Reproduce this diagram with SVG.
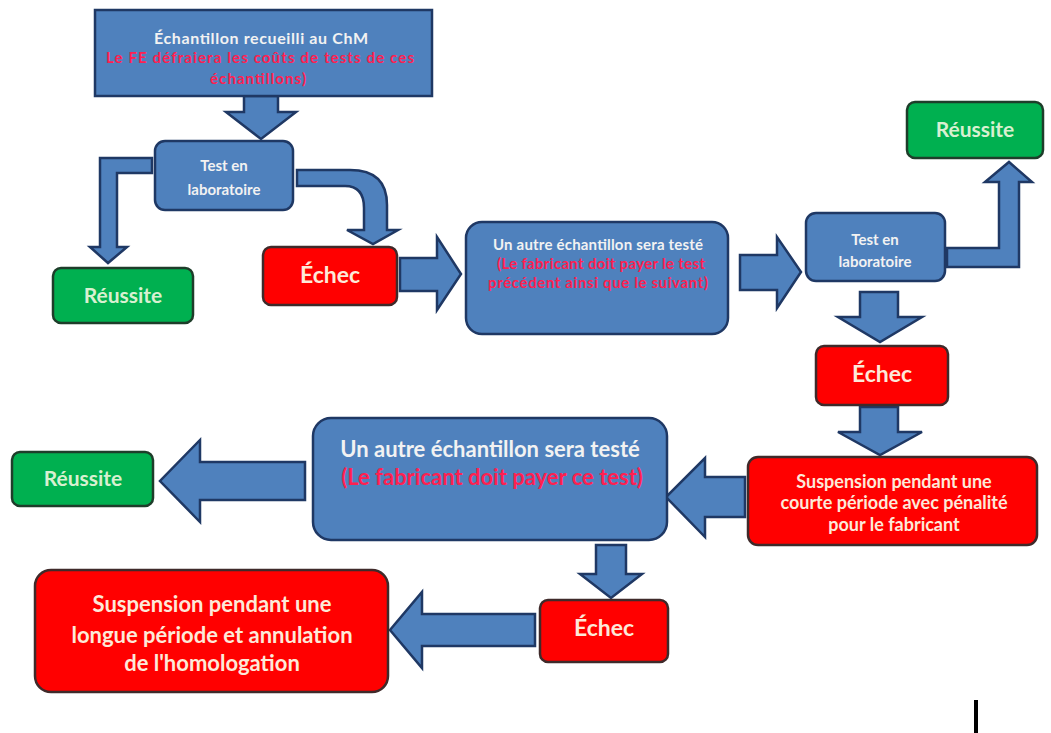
<svg xmlns="http://www.w3.org/2000/svg" width="1051" height="733" viewBox="0 0 1051 733">
<style>
.blue{fill:#4f81bd;stroke:#1f3864;stroke-width:2.5}
.red{fill:#ff0000;stroke:#3f2a2a;stroke-width:2.5}
.green{fill:#00b050;stroke:#1e3d2a;stroke-width:2.5}
.arr{fill:#4f81bd;stroke:#1f3864;stroke-width:2.5;stroke-linejoin:miter}
text{font-family:Lato,"Open Sans","Liberation Sans",sans-serif;font-weight:bold;text-anchor:middle}
.w{fill:#f2f2f2}
.r{fill:#ff2050}
.e{fill:#fde9d9}
.g{fill:#d8f0d0}
</style>
<rect width="1051" height="733" fill="#ffffff"/>
<g id="connectors">
<polygon class="arr" points="244,96 278,96 278,112 296,112 261,139 226,112 244,112"/>
<polygon class="arr" points="152,158 100,158 100,247 90,247 108,263 127,247 117,247 117,173 152,173"/>
<path class="arr" d="M297,170 L350,170 Q387,170 387,205 L387,230 L398,230 L373,244 L347,230 L364,230 L364,208 Q364,186 345,186 L297,186 Z"/>
<polygon class="arr" points="400,258 437,258 437,237 461,274 437,310 437,291 400,291"/>
<polygon class="arr" points="740,255 777,255 777,237 801,272 777,308 777,290 740,290"/>
<polygon class="arr" points="947,248 999,248 999,182 985,182 1009,162 1032,182 1019,182 1019,267 947,267"/>
<polygon class="arr" points="860,292 898,292 898,317 922,317 880,342 838,317 860,317"/>
<polygon class="arr" points="860,407 898,407 898,432 922,432 880,455 838,432 860,432"/>
<polygon class="arr" points="745,477 705,477 705,458 666,497 705,537 705,517 745,517"/>
<polygon class="arr" points="305,462 200,462 200,440 160,481 200,522 200,500 305,500"/>
<polygon class="arr" points="596,545 626,545 626,574 642,574 611,598 580,574 596,574"/>
<polygon class="arr" points="535,614 422,614 422,592 390,630 422,668 422,646 535,646"/>
</g>
<g id="top">
<rect class="blue" x="95" y="10" width="337" height="86"/>
<text class="w" x="261" y="44" font-size="16" textLength="214" lengthAdjust="spacing">Échantillon recueilli au ChM</text>
<text class="r" x="260" y="63" font-size="15" textLength="308" lengthAdjust="spacing">Le FE défraiera les coûts de tests de ces</text>
<text class="r" x="258" y="84" font-size="15" textLength="96" lengthAdjust="spacing">échantillons)</text>
</g>
<g id="test1">
<rect class="blue" x="155" y="141" width="138" height="69" rx="10"/>
<text class="w" x="224" y="171" font-size="15">Test en</text>
<text class="w" x="224" y="195" font-size="15">laboratoire</text>
</g>
<g id="reussite1">
<rect class="green" x="53" y="268" width="140" height="55" rx="8"/>
<text class="g" x="123" y="303" font-size="21">Réussite</text>
</g>
<g id="echec1">
<rect class="red" x="263" y="247" width="134" height="58" rx="8"/>
<text class="e" x="330" y="283" font-size="23">Échec</text>
</g>
<g id="autre1">
<rect class="blue" x="466" y="222" width="262" height="112" rx="16"/>
<text class="w" x="598" y="250" font-size="15" textLength="210" lengthAdjust="spacing">Un autre échantillon sera testé</text>
<text class="r" x="601" y="269" font-size="15" textLength="208" lengthAdjust="spacing">(Le fabricant doit payer le test</text>
<text class="r" x="598" y="288" font-size="15" textLength="220" lengthAdjust="spacing">précédent ainsi que le suivant)</text>
</g>
<g id="test2">
<rect class="blue" x="806" y="213" width="139" height="68" rx="10"/>
<text class="w" x="875" y="245" font-size="15">Test en</text>
<text class="w" x="875" y="267" font-size="15">laboratoire</text>
</g>
<g id="reussite2">
<rect class="green" x="907" y="102" width="136" height="56" rx="8"/>
<text class="g" x="975" y="137" font-size="21">Réussite</text>
</g>
<g id="echec2">
<rect class="red" x="816" y="346" width="132" height="59" rx="8"/>
<text class="e" x="882" y="382" font-size="23">Échec</text>
</g>
<g id="suspension1">
<rect class="red" x="748" y="457" width="289" height="88" rx="10"/>
<text class="e" x="894" y="488" font-size="18">Suspension pendant une</text>
<text class="e" x="894" y="509" font-size="18">courte période avec pénalité</text>
<text class="e" x="894" y="531" font-size="18">pour le fabricant</text>
</g>
<g id="autre2">
<rect class="blue" x="313" y="418" width="354" height="122" rx="18"/>
<text class="w" x="490" y="457" font-size="22">Un autre échantillon sera testé</text>
<text class="r" x="492" y="485" font-size="22">(Le fabricant doit payer ce test)</text>
</g>
<g id="reussite3">
<rect class="green" x="12" y="452" width="141" height="54" rx="8"/>
<text class="g" x="83" y="486" font-size="21">Réussite</text>
</g>
<g id="echec3">
<rect class="red" x="540" y="600" width="128" height="62" rx="8"/>
<text class="e" x="604" y="636" font-size="23">Échec</text>
</g>
<g id="suspension2">
<rect class="red" x="35" y="570" width="353" height="122" rx="16"/>
<text class="e" x="212" y="612" font-size="22">Suspension pendant une</text>
<text class="e" x="212" y="643" font-size="22">longue période et annulation</text>
<text class="e" x="212" y="671" font-size="22">de l'homologation</text>
</g>
<rect x="974" y="700" width="4" height="33" fill="#000000"/>
</svg>
